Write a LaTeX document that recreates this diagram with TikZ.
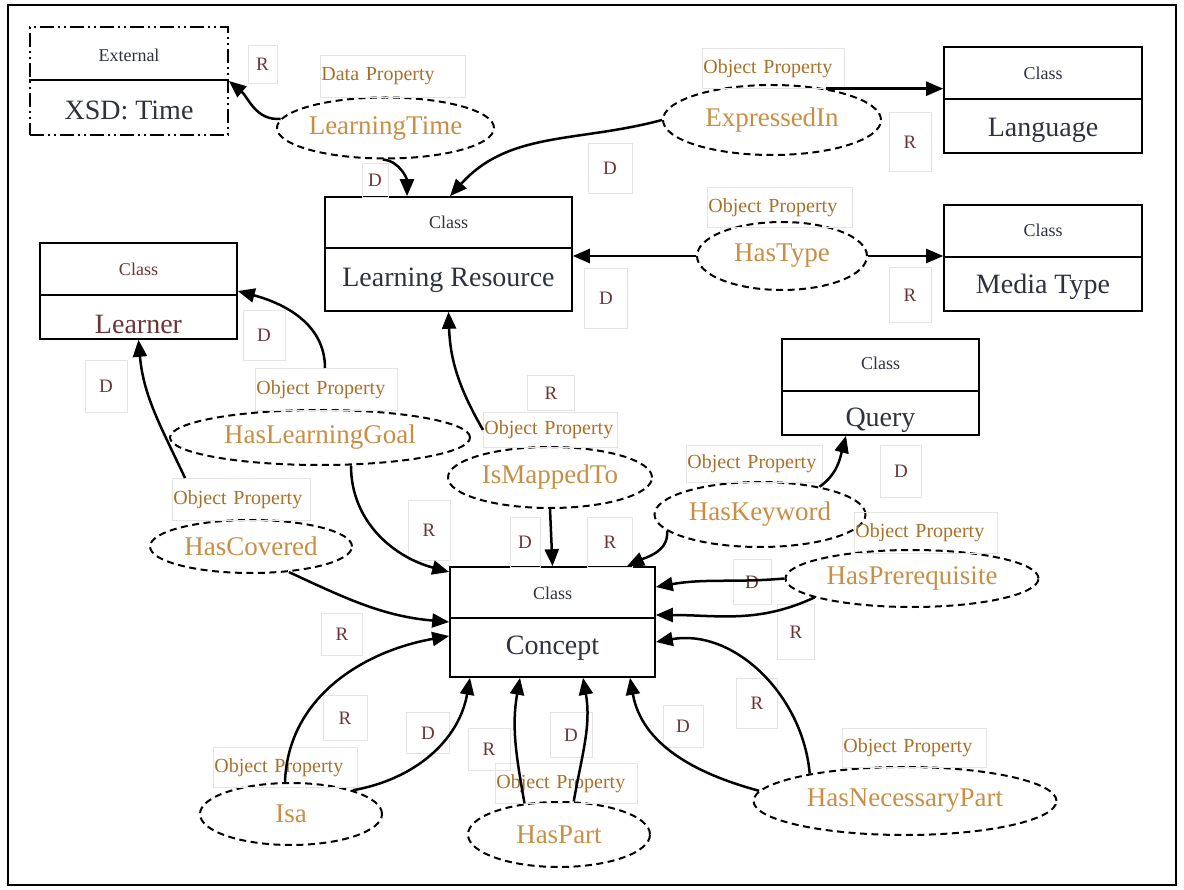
\documentclass[tikz,border=0pt]{standalone}
\usepackage{fontspec}
\setmainfont{Liberation Serif}
\usetikzlibrary{shapes.geometric,arrows.meta}

\definecolor{propcol}{RGB}{200,142,70}
\definecolor{tagcol}{RGB}{168,112,40}
\definecolor{rdcol}{RGB}{110,52,52}
\definecolor{clscol}{RGB}{45,50,62}
\definecolor{boxline}{RGB}{228,228,228}

\tikzset{
  classbox/.style={draw, line width=1.6pt, inner sep=0pt},
  clshead/.style={text=clscol, font=\fontsize{18}{20}\selectfont, inner sep=0pt},
  clsname/.style={text=clscol, font=\fontsize{28}{30}\selectfont, inner sep=0pt},
  prop/.style={ellipse, draw, dash pattern=on 7pt off 4.5pt, line width=2pt, inner sep=0pt,
    text=propcol, font=\fontsize{27}{29}\selectfont},
  optag/.style={draw=boxline, line width=0.8pt, text=tagcol, font=\fontsize{20}{22}\selectfont,
    inner xsep=1pt, inner ysep=0pt, align=left, anchor=north west},
  rdtag/.style={draw=boxline, line width=0.8pt, text=rdcol, font=\fontsize{19}{21}\selectfont, inner sep=0pt},
  arr/.style={line width=2.5pt, -{Triangle[length=17pt,width=14pt]}}
}

\begin{document}
\begin{tikzpicture}[x=1pt,y=-1pt]

\useasboundingbox (0,0) rectangle (1184,890);
%外框
\draw[line width=2.6pt] (8,5) rectangle (1176,885);

%类:上面写Class,下面写类名
\node[classbox, minimum width=198, minimum height=108, line width=2pt,
  dash pattern=on 14pt off 4pt on 2pt off 4pt on 2pt off 4pt] (ext) at (129,81) {};
\draw[line width=1.6pt] (ext.west |- 0,80) -- (ext.east |- 0,80);
\node[clshead] (extHead) at (129,55) {External};
\node[clsname] (extName) at (129,110) {XSD: Time};

\node[classbox, minimum width=247, minimum height=114] (lr) at (448.5,254) {};
\draw[line width=1.6pt] (lr.west |- 0,248) -- (lr.east |- 0,248);
\node[clshead] (lrHead) at (448.5,222) {Class};
\node[clsname] (lrName) at (448.5,280) {Learning Resource};

\node[classbox, minimum width=198, minimum height=106] (lang) at (1043,100) {};
\draw[line width=1.6pt] (lang.west |- 0,99) -- (lang.east |- 0,99);
\node[clshead] (langHead) at (1043,73) {Class};
\node[clsname] (langName) at (1043,130) {Language};

\node[classbox, minimum width=198, minimum height=106] (media) at (1043,258) {};
\draw[line width=1.6pt] (media.west |- 0,257) -- (media.east |- 0,257);
\node[clshead] (mediaHead) at (1043,230) {Class};
\node[clsname] (mediaName) at (1043,287) {Media Type};

\node[classbox, minimum width=197, minimum height=96] (learner) at (138.5,291) {};
\draw[line width=1.6pt] (learner.west |- 0,295) -- (learner.east |- 0,295);
\node[clshead, text=rdcol] (learnerHead) at (138.5,269) {Class};
\node[clsname, text=rdcol] (learnerName) at (138.5,324) {Learner};

\node[classbox, minimum width=197, minimum height=96] (query) at (880.5,387) {};
\draw[line width=1.6pt] (query.west |- 0,391) -- (query.east |- 0,391);
\node[clshead] (queryHead) at (880.5,363) {Class};
\node[clsname] (queryName) at (880.5,420) {Query};

\node[classbox, minimum width=205, minimum height=110] (concept) at (552.5,622) {};
\draw[line width=1.6pt] (concept.west |- 0,618) -- (concept.east |- 0,618);
\node[clshead] (conceptHead) at (552.5,593) {Class};
\node[clsname] (conceptName) at (552.5,648) {Concept};

%属性:虚线椭圆
\node[prop, minimum width=205, minimum height=61] (lt) at (385.5,128) {LearningTime};
\node[prop, minimum width=218, minimum height=70] (expr) at (772,120) {ExpressedIn};
\node[prop, minimum width=170, minimum height=68] (type) at (782,256) {HasType};
\node[prop, minimum width=300, minimum height=55] (lgoal) at (320,437.5) {HasLearningGoal};
\node[prop, minimum width=202, minimum height=53] (cov) at (251,546.5) {HasCovered};
\node[prop, minimum width=204, minimum height=61] (imap) at (550,477.5) {IsMappedTo};
\node[prop, minimum width=211, minimum height=65] (kw) at (760,514.5) {HasKeyword};
\node[prop, minimum width=253, minimum height=57] (prereq) at (912,578.5) {HasPrerequisite};
\node[prop, minimum width=182, minimum height=62] (isa) at (291,814) {Isa};
\node[prop, minimum width=182, minimum height=65] (part) at (559,834.5) {HasPart};
\node[prop, minimum width=303, minimum height=68] (necp) at (905,801) {HasNecessaryPart};

%属性类型的小标签
\node[optag, text width=143, minimum height=42] (ltTag) at (320,55) {Data Property};
\node[optag, text width=140, minimum height=40] (exprTag) at (702,48) {Object Property};
\node[optag, text width=143, minimum height=40] (typeTag) at (707,187) {Object Property};
\node[optag, text width=140, minimum height=42] (lgoalTag) at (255,368) {Object Property};
\node[optag, text width=136, minimum height=42] (covTag) at (172,478) {Object Property};
\node[optag, text width=132, minimum height=35] (imapTag) at (483,412) {Object Property};
\node[optag, text width=134, minimum height=37] (kwTag) at (686,445) {Object Property};
\node[optag, text width=141, minimum height=41] (prereqTag) at (854,512) {Object Property};
\node[optag, text width=142, minimum height=40] (isaTag) at (213,747) {Object Property};
\node[optag, text width=140, minimum height=40] (partTag) at (495,763) {Object Property};
\node[optag, text width=142, minimum height=39] (necpTag) at (842,728) {Object Property};

%R 和 D 的小方框
\foreach \n/\x/\y/\w/\h/\t in {
  extR/262.5/64/29/38/R, ltD/375/180/26/34/D, exprD/610/168/44/50/D, langR/910/142/42/59/R,
  typeD/606/298/43/60/D, mediaR/910/295/42/55/R, lgoalD/264/335/42/50/D, covD/106/386/42/52/D,
  imapR/551/393/47/35/R, lgoalR/429/530/42/60/R, imapD/525/542/30/50/D, kwR/610/542/45/50/R,
  kwD/901/471/41/52/D, preD/752/582/38/45/D, preR/796/632/37/55/R, covR/342/634/41/42/R,
  isaR/345/718/44/45/R, isaD/428/733/43/41/D, partR/489/749/42/42/R, partD/571/735/42/45/D,
  necpD/683/726/40/42/D, necpR/757/703/41/50/R}
  \node[rdtag, minimum width=\w, minimum height=\h] (\n) at (\x,\y) {\t};

%连线
\draw[arr] (lt.175) to[out=185,in=-40] (ext.east);
\draw[arr] (lt.-95) to[out=-5,in=90] (lr.north -| 407,0);
\draw[arr] (expr.west) to[out=195,in=48] (lr.north -| 450,0);
\draw[arr] (expr.30) -- (expr.30 -| lang.west);
\draw[arr] (type.west) -- (type.west -| lr.east);
\draw[arr] (type.east) -- (type.east -| media.west);
\draw[arr] (lgoalTag.north -| 325,0) to[out=90,in=-15] (learner.east);
\draw[arr] (covTag.north -| 185,0) to[out=115,in=-85] (learner.south);
\draw[arr] (imapTag.west) to[out=120,in=-88] (lr.south);
\draw[arr] (imap.south) -- (concept.north);
\draw[arr] (lgoal.-42) to[out=-90,in=165] (concept.west |- 0,572);
\draw[arr] (cov.-34) to[out=-25,in=175] (concept.west |- 0,622);
\draw[arr] (isa.north -| 285,0) to[out=88,in=190] (concept.west |- 0,636);
\draw[arr] (isa.21) to[out=10,in=-100] (concept.south -| 470,0);
\draw[arr] (part.138) to[out=100,in=-100] (concept.south -| 520,0);
\draw[arr] (part.66) to[out=80,in=-80] (concept.south -| 583,0);
\draw[arr] (necp.176) to[out=165,in=-80] (concept.south -| 630,0);
\draw[arr] (necp.164) to[out=95,in=10] (concept.east |- 0,642);
\draw[arr] (prereq.west) to[out=185,in=10] (concept.east |- 0,587);
\draw[arr] (prereq.191) to[out=205,in=0] (concept.east |- 0,615);
\draw[arr] (kw.25) to[out=35,in=-105] (query.south -| 846,0);
\draw[arr] (kw.190) to[out=-85,in=25] (concept.north -| 627,0);

\end{tikzpicture}
\end{document}
